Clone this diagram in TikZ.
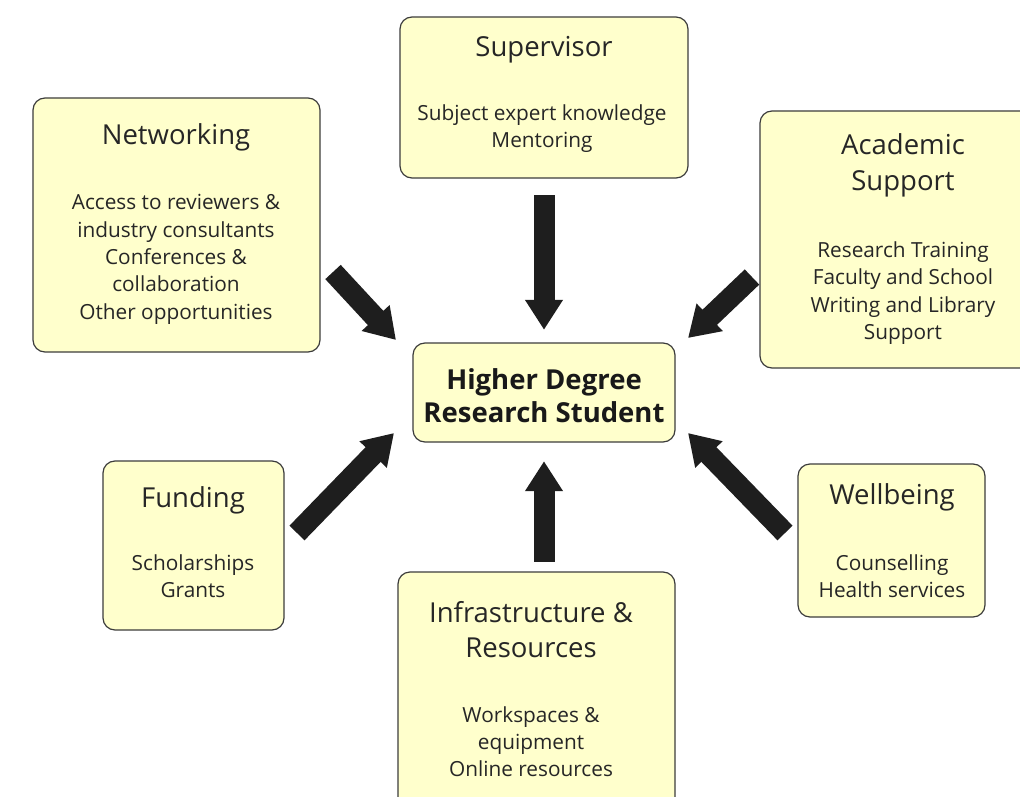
\documentclass[tikz,border=0pt]{standalone}
\usepackage{fontspec}
\setmainfont{Open Sans}
\usetikzlibrary{arrows.meta}
\definecolor{boxfill}{RGB}{255,255,204}
\definecolor{boxline}{RGB}{60,60,60}
\definecolor{arrowcol}{RGB}{30,30,30}
\tikzset{
  box/.style={draw=boxline, line width=1.2pt, fill=boxfill, rounded corners=12pt},
  ttl/.style={font=\fontsize{27.5}{30}\selectfont, text=black!85, inner sep=0pt, anchor=base},
  bdy/.style={font=\fontsize{20.8}{24}\selectfont, text=black!85, inner sep=0pt, anchor=base},
  bld/.style={font=\bfseries\fontsize{27.5}{30}\selectfont, text=black!90, inner sep=0pt, anchor=base},
  bigarrow/.style={draw=arrowcol, line width=21pt, -{Triangle[length=30pt,width=36pt]}},
}
\begin{document}
\begin{tikzpicture}[x=1pt,y=-1pt]
\useasboundingbox (0,0) rectangle (1020,797);
% boxes
\draw[box] (400,17) rectangle (688,178);
\draw[box] (33,98) rectangle (320,352);
\draw[box] (760,111) rectangle (1040,368);
\draw[box] (413,343) rectangle (675,442);
\draw[box] (103,461) rectangle (284,630);
\draw[box] (798,464) rectangle (985,617);
\draw[box] (398,572) rectangle (675,815);
% anchor nodes for boxes
\node[inner sep=0pt, minimum width=288pt, minimum height=161pt] (sup) at (544,97.5) {};
\node[inner sep=0pt, minimum width=262pt, minimum height=99pt] (hdr) at (544,392.5) {};
\node[inner sep=0pt, minimum width=277pt, minimum height=220pt] (inf) at (536.5,682) {};
% Supervisor
\node[ttl] (supT) at (544,57) {Supervisor};
\node[bdy] (supB1) at (542,121) {Subject expert knowledge};
\node[bdy] (supB2) at (542,148) {Mentoring};
% Networking
\node[ttl] (netT) at (176,145) {Networking};
\node[bdy] (netB1) at (176,209) {Access to reviewers \&};
\node[bdy] (netB2) at (176,237) {industry consultants};
\node[bdy] (netB3) at (176,264) {Conferences \&};
\node[bdy] (netB4) at (176,291) {collaboration};
\node[bdy] (netB5) at (176,319) {Other opportunities};
% Academic support
\node[ttl] (acaT1) at (903,155) {Academic};
\node[ttl] (acaT2) at (903,190) {Support};
\node[bdy] (acaB1) at (903,257) {Research Training};
\node[bdy] (acaB2) at (903,284) {Faculty and School};
\node[bdy] (acaB3) at (903,312) {Writing and Library};
\node[bdy] (acaB4) at (903,339) {Support};
% centre
\node[bld] (hdrT1) at (544,389) {Higher Degree};
\node[bld] (hdrT2) at (544,422) {Research Student};
% Funding
\node[ttl] (funT) at (193,507) {Funding};
\node[bdy] (funB1) at (193,570) {Scholarships};
\node[bdy] (funB2) at (193,597) {Grants};
% Wellbeing
\node[ttl] (welT) at (892,504) {Wellbeing};
\node[bdy] (welB1) at (892,570) {Counselling};
\node[bdy] (welB2) at (892,597) {Health services};
% Infrastructure
\node[ttl] (infT1) at (531,622) {Infrastructure \&};
\node[ttl] (infT2) at (531,657) {Resources};
\node[bdy] (infB1) at (531,722) {Workspaces \&};
\node[bdy] (infB2) at (531,749) {equipment};
\node[bdy] (infB3) at (531,776) {Online resources};
% arrow coordinates
\coordinate (nwA) at (333,272);
\coordinate (nwB) at (396,340);
\coordinate (neA) at (752,277);
\coordinate (neB) at (688,338);
\coordinate (swA) at (297,533);
\coordinate (swB) at (394,433);
\coordinate (seA) at (785,533);
\coordinate (seB) at (688,433);
% arrows
\draw[bigarrow, shorten <=17pt, shorten >=13pt] (sup.south) -- (hdr.north);
\draw[bigarrow, shorten <=10pt, shorten >=19pt] (hdr.south |- inf.north) -- (hdr.south);
\draw[bigarrow] (nwA) -- (nwB);
\draw[bigarrow] (neA) -- (neB);
\draw[bigarrow] (swA) -- (swB);
\draw[bigarrow] (seA) -- (seB);
\end{tikzpicture}
\end{document}
